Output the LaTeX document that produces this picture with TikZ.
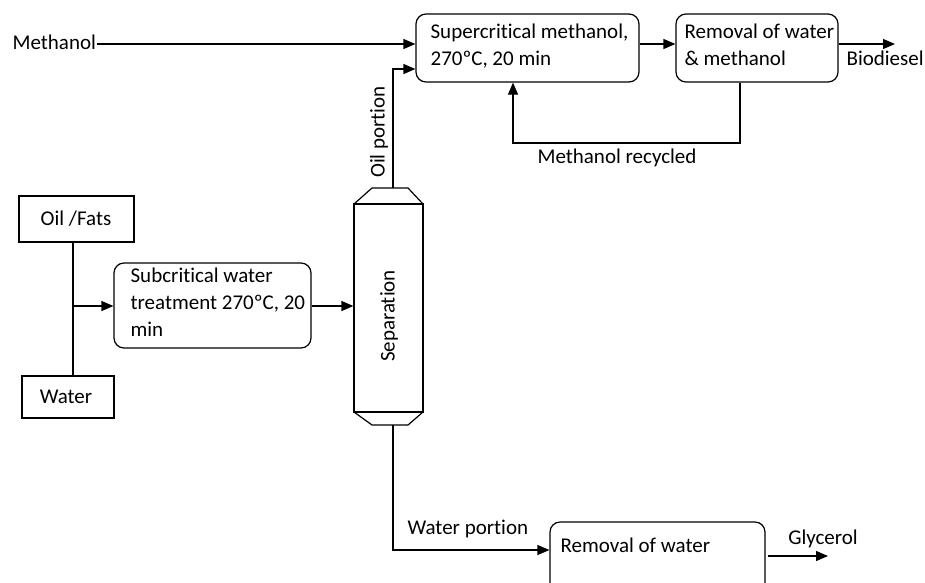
\documentclass[tikz,border=0pt]{standalone}
\usepackage{fontspec}
\setmainfont{Carlito}[Ligatures=NoCommon,RawFeature={-liga}]
\usetikzlibrary{arrows.meta}
\begin{document}
\begin{tikzpicture}[x=1pt,y=-1pt,
  line width=1.2pt,
  txt/.style={inner sep=0pt,font=\fontsize{21}{27}\selectfont,align=left},
  rbox/.style={draw,rounded corners=10pt,inner sep=0pt},
  sbox/.style={draw,inner sep=0pt},
  arr/.style={-{Triangle[length=12pt,width=10pt]}},
]
\useasboundingbox (0,0) rectangle (925,582);
\clip (0,0) rectangle (925,582);
\fill[white] (0,0) rectangle (925,582);

% boxes
\node[rbox,minimum width=223pt,minimum height=68pt] (sup) at (527.5,48) {};
\node[rbox,minimum width=162pt,minimum height=68pt] (rem1) at (757,48) {};
\node[sbox,minimum width=115pt,minimum height=46pt] (oil) at (76.5,219) {};
\node[sbox,minimum width=92pt,minimum height=42pt] (water) at (68,397) {};
\node[rbox,minimum width=197pt,minimum height=85pt] (sub) at (212.5,305.5) {};
\node[rbox,minimum width=215pt,minimum height=90pt] (rem2) at (657.5,567) {};
\node[sbox,minimum width=69pt,minimum height=208pt] (sep) at (388.5,308) {};
\draw (354,204) -- (372,188) -- (408,188) -- (423,204);
\draw (354,412) -- (372,425) -- (408,425) -- (423,412);
\coordinate (septop) at (393,188);
\coordinate (sepbot) at (393,425);

% texts
\node[txt,anchor=west] (tsup) at (430,46) {\fontsize{21}{28}\selectfont Supercritical methanol,\\270ºC, 20 min};
\node[txt,anchor=west] (trem1) at (684,45) {\fontsize{21}{29}\selectfont Removal of water\\\& methanol};
\node[txt] (toil) at (76,219) {Oil /Fats};
\node[txt] (twater) at (66,397) {Water};
\node[txt,anchor=west] (tsub) at (130,302.5) {\fontsize{21}{25.5}\selectfont Subcritical water\\treatment 270ºC, 20\\min};
\node[txt,anchor=west] (trem2) at (560,545) {Removal of water};
\node[txt,rotate=90] (tsep) at (389,316) {Separation};
\node[txt,anchor=west] (meth) at (12,42) {Methanol};
\node[txt,rotate=90] (toilp) at (379,132) {Oil portion};
\node[txt,anchor=west] (bio) at (846,58) {Biodiesel};
\node[txt] (mrec) at (617,158) {Methanol recycled};
\node[txt,anchor=west] (wpor) at (407,529) {Water portion};
\node[txt] (gly) at (823,539) {Glycerol};

% connectors
\coordinate (bioend) at (895,44);
\coordinate (glyend) at (828,556);
\draw[arr] (meth.east |- 0,44) -- (sup.west |- 0,44);
\draw[arr] (septop) |- (sup.west |- 0,69);
\draw[arr] (sup.east |- 0,44) -- (rem1.west |- 0,44);
\draw[arr] (rem1.east |- 0,44) -- (bioend);
\draw[arr] (rem1.south -| 740,0) -- (740,143) -- (513,143) -- (sup.south -| 513,0);
\draw (oil.south -| 73,0) -- (water.north -| 73,0);
\draw[arr] (73,306) -- (sub.west |- 0,306);
\draw[arr] (sub.east |- 0,306) -- (sep.west |- 0,306);
\draw[arr] (sepbot) |- (rem2.west |- 0,550);
\draw[arr] (rem2.east |- 0,556) ++(2,0) -- (glyend);
\end{tikzpicture}
\end{document}
